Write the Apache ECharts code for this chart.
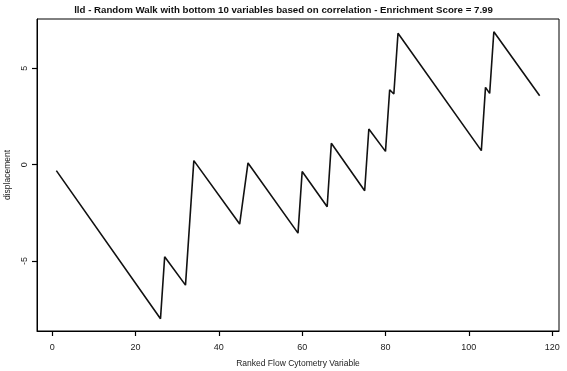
<!DOCTYPE html>
<html>
<head>
<meta charset="utf-8">
<script src="https://cdn.jsdelivr.net/npm/echarts@6/dist/echarts.min.js"></script>
<style>
  html, body { margin: 0; padding: 0; background: #fff; }
  #chart-container { width: 567px; height: 371px; }
</style>
</head>
<body>
<div id="chart-container"></div>
<script>
var dom = document.getElementById("chart-container");
var myChart = echarts.init(dom, null, { renderer: "canvas" });

// vertices of the random walk (rank, displacement)
var ranks = [1, 26, 27, 32, 34, 45, 47, 59, 60, 66, 67, 75, 76, 80, 81, 82, 83, 103, 104, 105, 106, 117];
var displacement = [-0.31, -7.99, -4.78, -6.25, 0.21, -3.08, 0.09, -3.55, -0.35, -2.18, 1.11, -1.35, 1.85, 0.69, 3.89, 3.67, 6.82, 0.73, 4.01, 3.70, 6.9, 3.58];
var xTicks = [0, 20, 40, 60, 80, 100, 120];
var yTicks = [-5, 0, 5];

var chartTitle = "lld - Random Walk with bottom 10 variables based on correlation - Enrichment Score = 7.99";

var points = ranks.map(function (r, i) { return [r, displacement[i]]; });

var font = "Liberation Sans, Arial, sans-serif";

var option = {
  animation: false,
  title: {
    text: chartTitle,
    left: "center",
    top: 0,
    textStyle: { fontFamily: font, fontSize: 9.7, fontWeight: "bold", color: "#111" }
  },
  grid: {
    left: 37, right: 8, top: 19, bottom: 40,
    outerBoundsMode: "none",
    containLabel: false,
    show: true, borderColor: "#000", borderWidth: 1
  },
  xAxis: {
    type: "value",
    min: -3.64, max: 121.64,
    name: "Ranked Flow Cytometry Variable",
    nameLocation: "middle",
    nameGap: 28,
    nameTextStyle: { fontFamily: font, fontSize: 8.5, color: "#222" },
    axisLine: { show: true, onZero: false, lineStyle: { color: "#000", width: 1 } },
    splitLine: { show: false },
    axisTick: { show: true, length: 5, customValues: xTicks, lineStyle: { color: "#000", width: 1.2 } },
    axisLabel: { customValues: xTicks, margin: 12, fontFamily: font, fontSize: 9, color: "#222" }
  },
  yAxis: {
    type: "value",
    min: -8.63, max: 7.56,
    name: "displacement",
    nameLocation: "middle",
    nameRotate: 90,
    nameGap: 24,
    nameTextStyle: { fontFamily: font, fontSize: 8.5, color: "#222" },
    axisLine: { show: true, onZero: false, lineStyle: { color: "#000", width: 1 } },
    splitLine: { show: false },
    axisTick: { show: true, length: 5, customValues: yTicks, lineStyle: { color: "#000", width: 1.2 } },
    axisLabel: { customValues: yTicks, rotate: 90, margin: 8, fontFamily: font, fontSize: 9, color: "#222" }
  },
  series: [
    {
      type: "line",
      data: points,
      showSymbol: false,
      lineStyle: { color: "#111", width: 1.6 }
    }
  ]
};

myChart.setOption(option);
window.addEventListener("resize", myChart.resize);
</script>
</body>
</html>
